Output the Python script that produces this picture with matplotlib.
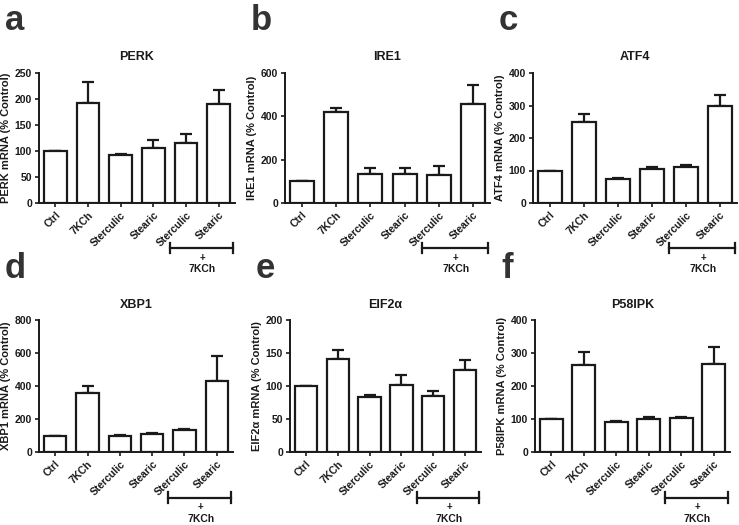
import numpy as np
import matplotlib
matplotlib.use('Agg')
import matplotlib.pyplot as plt
import matplotlib.transforms as mtransforms

plt.rcParams['font.family'] = ['Liberation Sans', 'DejaVu Sans']
plt.rcParams['font.weight'] = 'bold'

# data
groups = ['Ctrl', '7KCh', 'Sterculic', 'Stearic', 'Sterculic', 'Stearic']

perk_mean = [100, 192, 92, 105, 116, 191]
perk_err = [0, 41, 2, 17, 16, 27]
ire1_mean = [100, 418, 133, 133, 128, 455]
ire1_err = [0, 19, 27, 27, 44, 90]
atf4_mean = [100, 248, 73, 105, 110, 298]
atf4_err = [0, 27, 3, 5, 7, 35]
xbp1_mean = [100, 355, 95, 108, 135, 428]
xbp1_err = [0, 43, 7, 10, 5, 154]
eif2a_mean = [100, 141, 84, 102, 85, 125]
eif2a_err = [0, 14, 3, 14, 7, 14]
p58_mean = [100, 263, 92, 100, 104, 266]
p58_err = [0, 39, 2, 5, 2, 51]

panels = [
    ('a', 'PERK', 'PERK mRNA (% Control)', perk_mean, perk_err, 250, 50),
    ('b', 'IRE1', 'IRE1 mRNA (% Control)', ire1_mean, ire1_err, 600, 200),
    ('c', 'ATF4', 'ATF4 mRNA (% Control)', atf4_mean, atf4_err, 400, 100),
    ('d', 'XBP1', 'XBP1 mRNA (% Control)', xbp1_mean, xbp1_err, 800, 200),
    ('e', 'EIF2\u03b1', 'EIF2\u03b1 mRNA (% Control)', eif2a_mean, eif2a_err, 200, 50),
    ('f', 'P58IPK', 'P58IPK mRNA (% Control)', p58_mean, p58_err, 400, 100),
]

# axes boxes in pixels: left, right, top, bottom
boxes = [
    (39, 235, 73, 203), (285, 490, 73, 203), (533, 737, 73, 203),
    (39, 233, 320, 452), (290, 481, 320, 452), (535, 730, 320, 452),
]

W, H = 739, 525
fig = plt.figure(figsize=(W / 100, H / 100), dpi=100)
col = '#1a1a1a'

for (letter, title, ylab, mean, err, ymax, step), (l, r, t, b) in zip(panels, boxes):
    ax = fig.add_axes([l / W, 1 - b / H, (r - l) / W, (b - t) / H])
    x = np.arange(len(groups))
    ax.bar(x, mean, width=0.7, color='white', edgecolor=col, linewidth=1.6, zorder=2)
    ax.errorbar(x, mean, yerr=[np.zeros(len(err)), err], fmt='none', ecolor=col,
                elinewidth=1.6, capsize=4, capthick=1.6, zorder=1)
    ax.set_xlim(-0.5, 5.5)
    ax.set_ylim(0, ymax)
    ax.set_yticks(np.arange(0, ymax + 1, step))
    ax.set_xticks(x)
    ax.set_xticklabels(groups, rotation=45, ha='right', rotation_mode='anchor',
                       fontsize=7.5, fontweight='bold', color=col)
    for lab in ax.get_yticklabels():
        lab.set_fontsize(7.5)
        lab.set_fontweight('bold')
        lab.set_color(col)
    ax.spines['top'].set_visible(False)
    ax.spines['right'].set_visible(False)
    for s in ['left', 'bottom']:
        ax.spines[s].set_linewidth(1.4)
        ax.spines[s].set_color(col)
    ax.tick_params(axis='both', direction='out', length=3, width=1.2, colors=col, pad=2)
    ax.set_ylabel(ylab, fontsize=8, fontweight='bold', color=col, labelpad=3)
    ax.set_title(title, fontsize=9, fontweight='bold', color=col, pad=9)

    # bracket for the +7KCh groups
    trans = mtransforms.blended_transform_factory(ax.transData, ax.transAxes)
    yb = -0.345
    ax.plot([3.5, 5.45], [yb, yb], color=col, lw=1.6, transform=trans, clip_on=False)
    for xe in (3.5, 5.45):
        ax.plot([xe, xe], [yb - 0.04, yb + 0.04], color=col, lw=1.6,
                transform=trans, clip_on=False)
    ax.text(4.5, yb - 0.075, '+', transform=trans, ha='center', va='center',
            fontsize=7, fontweight='bold', color=col)
    ax.text(4.5, yb - 0.16, '7KCh', transform=trans, ha='center', va='center',
            fontsize=7.5, fontweight='bold', color=col)

    # panel letter
    fig.text((l - 34) / W, 1 - (t - 52) / H, letter, fontsize=25, fontweight='bold',
             color='#333333', ha='left', va='center')

fig.savefig('out.png', dpi=100)
